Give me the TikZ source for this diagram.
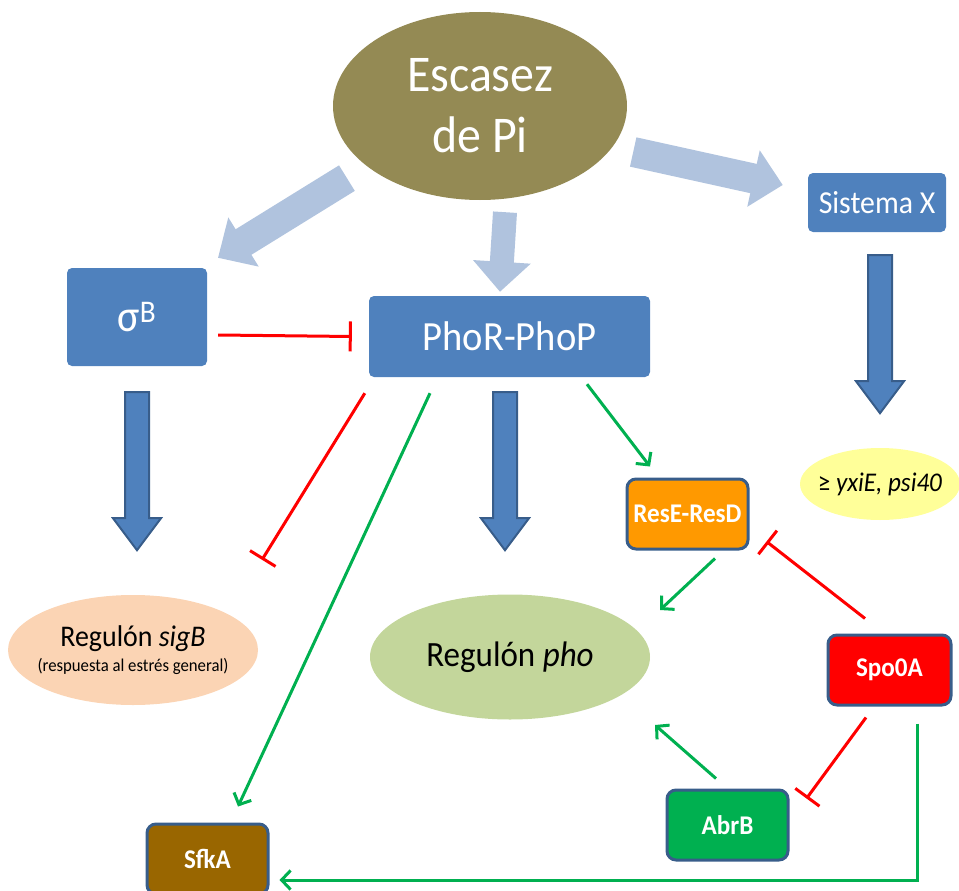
\documentclass[tikz,border=0pt]{standalone}
\usepackage{fontspec}
\setmainfont{Carlito}[FakeStretch=0.93]
\usetikzlibrary{arrows.meta,shapes.geometric}
\definecolor{olivec}{HTML}{948A54}
\definecolor{boxblue}{HTML}{4F81BD}
\definecolor{edgeblue}{HTML}{385D8A}
\definecolor{lightarr}{HTML}{B0C3DE}
\definecolor{peach}{HTML}{FBD4B4}
\definecolor{phogreen}{HTML}{C3D69B}
\definecolor{paleyellow}{HTML}{FFFF99}
\definecolor{actgreen}{HTML}{00B050}
\definecolor{inhred}{HTML}{FF0000}
\definecolor{resorange}{HTML}{FF9900}
\definecolor{sfkbrown}{HTML}{996600}
\begin{document}
\begin{tikzpicture}[x=1pt,y=-1pt,
  bluebox/.style={rectangle, rounded corners=5pt, fill=boxblue, text=white, inner sep=0pt},
  genebox/.style={rectangle, rounded corners=9pt, draw=edgeblue, line width=3pt, text=white,
    minimum width=121pt, minimum height=70pt, font=\fontsize{27}{30}\selectfont\bfseries, inner sep=0pt},
  blob/.style={ellipse, inner sep=0pt},
  act/.style={draw=actgreen, line width=3pt, -{Straight Barb[length=9pt,width=19pt]}},
  inh/.style={draw=inhred, line width=3pt, -{Bar[width=30pt]}},
  soft/.style={draw=lightarr, line width=#1, -{Triangle[length=30pt,width=56pt]}},
  fatdark/.style={fill=boxblue, draw=edgeblue, line width=2pt},
  pics/downarr/.style={code={\draw[fatdark] (-12,0) -- (12,0) -- (12,126) -- (24,126) -- (0,158) -- (-24,126) -- (-12,126) -- cycle;}}
]
\useasboundingbox (0,0) rectangle (959,891);

% nodes
\node[blob, fill=olivec, minimum width=294pt, minimum height=188pt, text=white, align=center,
  font=\fontsize{51.5}{61}\selectfont] (esc) at (480,106) {Escasez\\de Pi};
\node[bluebox, minimum width=138pt, minimum height=59pt, font=\fontsize{32}{36}\selectfont] (sysx) at (877,202.5) {Sistema X};
\node[bluebox, minimum width=140pt, minimum height=98pt, font=\fontsize{45}{50}\selectfont] (sig) at (137,317) {σ\textsuperscript{B}};
\node[bluebox, minimum width=281pt, minimum height=81pt, font=\fontsize{41.5}{46}\selectfont] (phorp) at (509.5,336.5) {PhoR-PhoP};

\node[genebox, fill=resorange] (rese) at (687.5,514) {ResE-ResD};
\node[genebox, fill=inhred, minimum width=123pt] (spo) at (889.5,670) {Spo0A};
\node[genebox, fill=actgreen] (abrb) at (727.5,825) {AbrB};
\node[genebox, fill=sfkbrown] (sfka) at (207.5,859) {SfkA};

\node[blob, fill=paleyellow, minimum width=160pt, minimum height=72pt, inner xsep=-14pt,
  font=\fontsize{27}{30}\selectfont] (yxi) at (880,484) {≥ \textit{yxiE, psi40}};
\node[blob, fill=peach, minimum width=250pt, minimum height=110pt, inner xsep=-12pt, align=center] (regsig) at (133,650)
  {{\fontsize{30}{30}\selectfont Regulón \textit{sigB}}\\[5pt]{\fontsize{18}{20}\selectfont (respuesta al estrés general)}};
\node[blob, fill=phogreen, minimum width=280pt, minimum height=125pt, font=\fontsize{35.5}{40}\selectfont] (regpho) at (510,657) {Regulón \textit{pho}};

% light arrows from Escasez de Pi
\draw[soft=30pt] ([xshift=-29pt,yshift=-5.5pt]esc.south west) -- ([xshift=81pt,yshift=10pt]sig.north);
\draw[soft=24pt] ([xshift=25pt,yshift=-12pt]esc.south) -- ([xshift=-9.5pt,yshift=4pt]phorp.north);
\draw[soft=30pt] ([xshift=6pt,yshift=-46pt]esc.east) -- ([xshift=-25pt,yshift=17.5pt]sysx.west);

% fat dark arrows
\pic at ([yshift=-26pt]sig.south) {downarr};
\pic at ([xshift=-4.5pt,yshift=-15pt]phorp.south) {downarr};
\pic at ([xshift=3pt,yshift=-23pt]sysx.south) {downarr};

% inhibitions
\draw[inh] ([xshift=11pt,yshift=-18pt]sig.east) -- ([xshift=-17pt]phorp.west);
\draw[inh] ([xshift=-4pt,yshift=-16pt]phorp.south west) -- ([xshift=129pt,yshift=35pt]regsig.north);
\draw[inh] ([xshift=-24.5pt,yshift=15pt]spo.north) -- ([xshift=17pt,yshift=9pt]rese.south east);
\draw[inh] ([xshift=-23.5pt,yshift=-11pt]spo.south) -- ([xshift=17pt,yshift=-10pt]abrb.north east);

% activations
\draw[act] ([xshift=-79.5pt,yshift=-16pt]phorp.south) -- ([xshift=30.5pt,yshift=16pt]sfka.north);
\draw[act] ([xshift=77.5pt,yshift=-7pt]phorp.south) -- ([xshift=-37.5pt,yshift=11pt]rese.north);
\draw[act] ([xshift=27.5pt,yshift=-8pt]rese.south) -- ([xshift=150pt,yshift=47pt]regpho.center);
\draw[act] ([xshift=-11.5pt,yshift=10pt]abrb.north) -- ([xshift=145pt,yshift=-68pt]regpho.center);
\draw[act] ([xshift=27.5pt,yshift=-17pt]spo.south) |- ([xshift=10pt,yshift=-21pt]sfka.east);
\end{tikzpicture}
\end{document}
